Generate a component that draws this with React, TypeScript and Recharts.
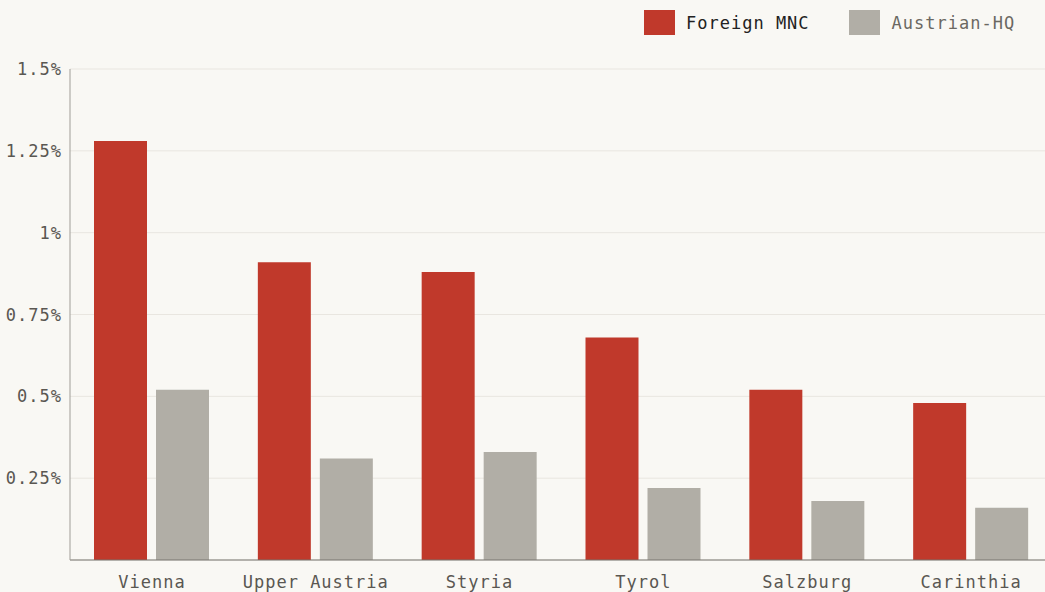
import { Bar, BarChart, CartesianGrid, XAxis, YAxis } from "recharts";

const regions = ["Vienna", "Upper Austria", "Styria", "Tyrol", "Salzburg", "Carinthia"];
const foreignMnc = [1.28, 0.91, 0.88, 0.68, 0.52, 0.48];
const austrianHq = [0.52, 0.31, 0.33, 0.22, 0.18, 0.16];
const yTicks = [0.25, 0.5, 0.75, 1, 1.25, 1.5];

const data = regions.map((region, i) => ({
  region,
  foreign: foreignMnc[i],
  austrian: austrianHq[i],
}));

const FONT = "'DejaVu Sans Mono', 'Liberation Mono', monospace";
const RED = "#c0392b";
const GREY = "#b1aea6";
const BG = "#f9f8f4";

const tickStyle = { fill: "#5a5752", fontSize: 17, fontFamily: FONT, letterSpacing: 1 };

const formatPct = (v: number) => `${v}%`;

const App = () => {
  return (
    <div
      style={{
        position: "absolute",
        left: 0,
        top: 0,
        width: 1045,
        height: 592,
        background: BG,
        overflow: "hidden",
        fontFamily: FONT,
      }}
    >
      <div
        style={{
          position: "absolute",
          top: 10,
          left: 644,
          display: "flex",
          alignItems: "center",
          fontSize: 17,
          letterSpacing: 1,
          whiteSpace: "nowrap",
        }}
      >
        <span style={{ width: 31, height: 25, background: RED, display: "inline-block" }} />
        <span style={{ marginLeft: 11, color: "#222" }}>Foreign MNC</span>
        <span
          style={{ marginLeft: 39, width: 31, height: 25, background: GREY, display: "inline-block" }}
        />
        <span style={{ marginLeft: 12, color: "#6b6862" }}>Austrian-HQ</span>
      </div>
      <BarChart
        width={1059}
        height={592}
        data={data}
        margin={{ top: 69, right: 6, bottom: 0, left: 0 }}
        barGap={9}
        barSize={53}
      >
        <CartesianGrid vertical={false} stroke="#e9e6e0" />
        <XAxis
          dataKey="region"
          height={32}
          tickLine={false}
          axisLine={{ stroke: "#77746e" }}
          tick={tickStyle}
          tickMargin={10}
          interval={0}
        />
        <YAxis
          width={70}
          domain={[0, 1.5]}
          ticks={yTicks}
          tickFormatter={formatPct}
          tickLine={false}
          axisLine={{ stroke: "#a09d97" }}
          tick={tickStyle}
          tickMargin={2}
        />
        <Bar dataKey="foreign" fill={RED} isAnimationActive={false} />
        <Bar dataKey="austrian" fill={GREY} isAnimationActive={false} />
      </BarChart>
    </div>
  );
};

export default App;
